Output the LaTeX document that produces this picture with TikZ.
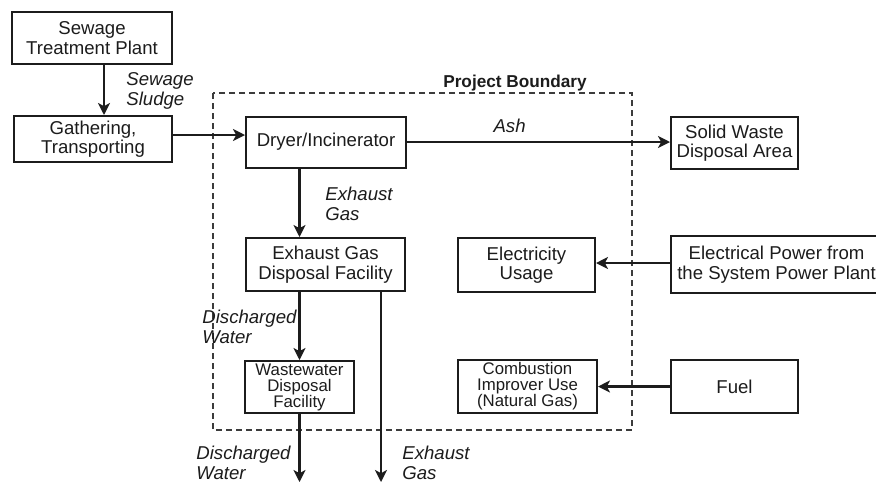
\documentclass[tikz,border=0pt]{standalone}
\usepackage{fontspec}
\setmainfont{Liberation Sans}
\usepackage{xcolor}
\usetikzlibrary{arrows.meta,positioning}
\definecolor{inkgray}{RGB}{28, 28, 28}
\definecolor{bounddark}{RGB}{60, 60, 60}

\begin{document}
\begin{tikzpicture}[x=0.5pt, y=-0.5pt,
    every node/.style={font=\fontsize{9.3}{9.8}\selectfont, text=inkgray},
    unitbox/.style={draw=inkgray, line width=1pt, fill=white, align=center, inner sep=1pt},
    smallbox/.style={unitbox, font=\fontsize{8.4}{8}\selectfont},
    flow/.style={draw=inkgray, line width=1.1pt, -{Stealth[length=6pt, width=6pt, inset=1.6pt]}},
    flowlabel/.style={font=\fontsize{9.3}{9.8}\selectfont\itshape, align=left, inner sep=0pt},
    boundary/.style={draw=bounddark, line width=0.8pt, dash pattern=on 3pt off 2pt}]
    \fill[white] (0,0) rectangle (876,484);
    \useasboundingbox (0,0) rectangle (876,484);

    % Project boundary
    \draw[boundary] (213,93) rectangle (632,430);
    \node[font=\fontsize{8.6}{9}\selectfont\bfseries] (boundlbl) at (515,83) {Project Boundary};

    % Outside, upstream
    \node[unitbox, minimum width=80pt, minimum height=26pt] (stp) at (92,38) {Sewage\\Treatment Plant};
    \node[unitbox, minimum width=79pt, minimum height=23pt] (gather) at (93,139) {Gathering,\\Transporting};

    % Inside the boundary
    \node[unitbox, minimum width=80pt, minimum height=25.5pt] (dryer) at (326,142) {Dryer/Incinerator};
    \node[unitbox, minimum width=79.5pt, minimum height=26.5pt] (exh) at (325.5,264.5) {Exhaust Gas\\Disposal Facility};
    \node[smallbox, minimum width=54.5pt, minimum height=26pt] (ww) at (299.5,387) {Wastewater\\Disposal\\Facility};
    \node[unitbox, minimum width=68.5pt, minimum height=27pt] (elec) at (526.5,265) {Electricity\\Usage};
    \node[smallbox, minimum width=69.5pt, minimum height=26.5pt] (comb) at (527.5,386.5) {Combustion\\Improver Use\\(Natural Gas)};

    % Outside, right
    \node[unitbox, minimum width=63.5pt, minimum height=26pt] (solid) at (734.5,143) {Solid Waste\\Disposal Area};
    \node[unitbox, minimum width=105.5pt, minimum height=28.5pt] (power) at (776.5,264.5) {Electrical Power from\\the System Power Plant};
    \node[unitbox, minimum width=63.5pt, minimum height=26.5pt] (fuel) at (734.5,386.5) {Fuel};

    % Free ends
    \coordinate (wwout) at (299.5,482);
    \coordinate (gasout) at (381,482);

    % Flows
    \draw[flow] ([xshift=6pt]stp.south) -- ([xshift=6pt]stp.south |- gather.north);
    \draw[flow] ([yshift=2pt]gather.east) -- ([yshift=2pt]gather.east -| dryer.west);
    \draw[flow] (dryer.east) -- (dryer.east -| solid.west) node[flowlabel, pos=0.39, above=4pt] (ashlbl) {Ash};
    \draw[flow] (dryer.south -| ww.north) -- (exh.north -| ww.north);
    \draw[flow] (exh.south -| ww.north) -- (ww.north);
    \draw[flow] (ww.south) -- (wwout);
    \draw[flow] (exh.south -| gasout) -- (gasout);
    \draw[flow] ([yshift=1pt]power.west |- elec.east) -- ([yshift=1pt]elec.east);
    \draw[flow] (fuel.west) -- (comb.east);

    % Flow labels
    \node[flowlabel, anchor=west] (sludgelbl) at (126,91) {Sewage\\Sludge};
    \node[flowlabel, anchor=west] (exhgaslbl) at (325,204) {Exhaust\\Gas};
    \node[flowlabel, anchor=west] (dischlbl) at (202,327) {Discharged\\Water};
    \node[flowlabel, anchor=west] (dischoutlbl) at (196,463) {Discharged\\Water};
    \node[flowlabel, anchor=west] (gasoutlbl) at (402,463) {Exhaust\\Gas};
\end{tikzpicture}
\end{document}
